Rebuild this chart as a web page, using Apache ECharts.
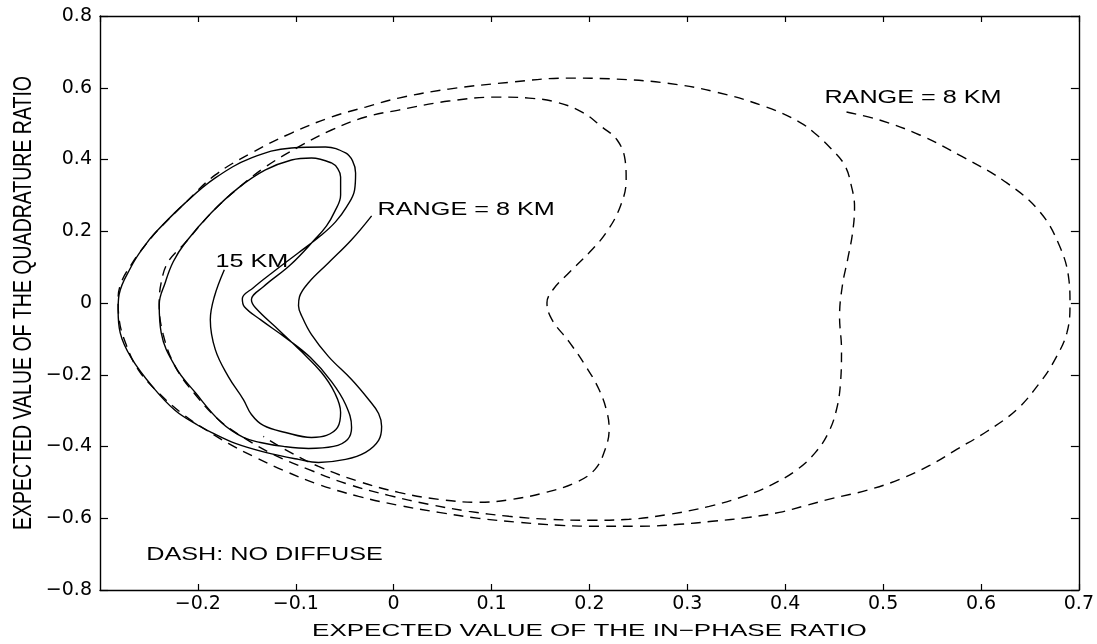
<!DOCTYPE html>
<html><head><meta charset="utf-8">
<script src="https://cdn.jsdelivr.net/npm/echarts@6/dist/echarts.min.js"></script>
<style>html,body{margin:0;padding:0;background:#fff}#c{width:1097px;height:644px}</style>
</head><body><div id="c"></div>
<script>
// Solid spiral (with diffuse), from RANGE = 8 KM to 15 KM
const solidX = [-0.0225,-0.0430,-0.0665,-0.0870,-0.0962,-0.0972,-0.0931,-0.0839,-0.0665,-0.0430,-0.0256,-0.0154,-0.0123,-0.0154,-0.0287,-0.0491,-0.0768,-0.0972,-0.1310,-0.1617,
-0.1863,-0.1996,-0.2231,-0.2456,-0.2682,-0.2794,-0.2815,-0.2805,-0.2682,-0.2559,-0.2436,-0.2129,-0.1822,-0.1453,-0.1044,-0.0696,-0.0491,-0.0420,-0.0389,-0.0399,-0.0481,
-0.0594,-0.0747,-0.0972,-0.1228,-0.1433,-0.1546,-0.1525,-0.1361,-0.1105,-0.0850,-0.0635,-0.0491,-0.0430,-0.0471,-0.0614,-0.0870,-0.1126,-0.1361,-0.1535,-0.1760,
-0.2027,-0.2231,-0.2375,-0.2395,-0.2334,-0.2252,-0.2129,-0.1863,-0.1586,-0.1310,-0.1044,-0.0839,-0.0635,-0.0570,-0.0542,-0.0542,-0.0604,-0.0686,-0.0809,-0.1054,-0.1331,
-0.1453,-0.1412,-0.1177,-0.0942,-0.0737,-0.0604,-0.0542,-0.0573,-0.0686,-0.0839,-0.1105,-0.1331,-0.1453,-0.1535,-0.1689,-0.1822,-0.1873,-0.1832,-0.1730];
const solidY = [0.2429,0.1762,0.1121,0.0565,0.0175,-0.0075,-0.0409,-0.0882,-0.1494,-0.2134,-0.2691,-0.3080,-0.3442,-0.3831,-0.4165,-0.4360,-0.4444,-0.4360,-0.4165,-0.3915,
-0.3609,-0.3414,-0.2997,-0.2357,-0.1522,-0.0826,-0.0186,0.0231,0.1010,0.1539,0.1956,0.2791,0.3486,0.4043,0.4321,0.4349,0.4182,0.3960,0.3626,0.3153,0.2679,
0.2262,0.1873,0.1400,0.0871,0.0426,0.0120,-0.0103,-0.0465,-0.0965,-0.1522,-0.2190,-0.2830,-0.3470,-0.3803,-0.3998,-0.4054,-0.3998,-0.3887,-0.3748,-0.3331,
-0.2496,-0.1772,-0.0826,-0.0047,0.0565,0.1149,0.1678,0.2513,0.3208,0.3709,0.3987,0.4043,0.3904,0.3740,0.3514,0.3013,0.2540,0.2151,0.1761,0.1066,0.0453,
0.0092,-0.0131,-0.0743,-0.1355,-0.1939,-0.2496,-0.3052,-0.3470,-0.3692,-0.3748,-0.3609,-0.3414,-0.3108,-0.2691,-0.2051,-0.1299,-0.0465,0.0175,0.0927];

// Dashed spiral (no diffuse), starting at RANGE = 8 KM
const dashX = [0.4626,0.4964,0.5374,0.5814,0.6264,0.6602,0.6806,0.6898,0.6909,0.6878,0.6755,0.6602,0.6366,0.6059,0.5752,0.5476,0.5169,0.4831,0.4483,0.4217,
0.3941,0.3634,0.3255,0.2917,0.2508,0.2098,0.1689,0.1279,0.0870,0.0461,0.0051,-0.0358,-0.0768,-0.1126,-0.1433,-0.1689,-0.1924,-0.2149,-0.2405,-0.2610,
-0.2733,-0.2804,-0.2815,-0.2784,-0.2682,-0.2559,-0.2405,-0.2129,-0.1822,-0.1453,-0.1044,-0.0635,-0.0287,0.0051,0.0563,0.1208,0.1760,0.2272,0.2784,0.3296,
0.3808,0.4145,0.4299,0.4452,0.4606,0.4678,0.4708,0.4688,0.4637,0.4585,0.4555,0.4575,0.4565,0.4524,0.4442,0.4309,0.4125,0.3869,0.3603,0.3224,
0.2815,0.2405,0.1996,0.1586,0.1177,0.0768,0.0358,-0.0051,-0.0461,-0.0870,-0.1228,-0.1535,-0.1791,-0.2027,-0.2231,-0.2354,-0.2395,-0.2375,-0.2303,-0.2129,
-0.1863,-0.1586,-0.1310,-0.0972,-0.0635,-0.0287,0.0051,0.0563,0.1075,0.1382,0.1658,0.1924,0.2129,0.2283,0.2364,0.2375,0.2313,0.2170,0.1996,0.1791,
0.1627,0.1566,0.1617,0.1791,0.1965,0.2098,0.2180,0.2201,0.2160,0.2057,0.1863,0.1556,0.1208,0.0870,0.0461,0.0051,-0.0358,-0.0768,-0.1075,-0.1331];
const dashY = [0.5323,0.5100,0.4683,0.4071,0.3347,0.2540,0.1566,0.0648,0.0008,-0.0826,-0.1578,-0.2218,-0.2969,-0.3581,-0.4082,-0.4527,-0.4917,-0.5223,-0.5445,-0.5640,
-0.5835,-0.5974,-0.6085,-0.6169,-0.6224,-0.6224,-0.6196,-0.6113,-0.6002,-0.5835,-0.5640,-0.5390,-0.5056,-0.4666,-0.4277,-0.3915,-0.3525,-0.3108,-0.2496,-0.1856,
-0.1160,-0.0465,0.0092,0.0565,0.1066,0.1539,0.2040,0.2791,0.3570,0.4182,0.4738,0.5184,0.5462,0.5712,0.5963,0.6157,0.6269,0.6241,0.6130,0.5879,
0.5462,0.5045,0.4738,0.4349,0.3848,0.3236,0.2679,0.1956,0.1205,0.0509,-0.0381,-0.1299,-0.2218,-0.2969,-0.3609,-0.4165,-0.4638,-0.5056,-0.5362,-0.5668,
-0.5890,-0.6029,-0.6057,-0.6029,-0.5946,-0.5807,-0.5612,-0.5362,-0.5056,-0.4638,-0.4221,-0.3748,-0.3247,-0.2551,-0.1772,-0.0882,-0.0047,0.0565,0.1149,0.1678,
0.2513,0.3208,0.3792,0.4349,0.4822,0.5184,0.5378,0.5629,0.5740,0.5712,0.5601,0.5323,0.4905,0.4544,0.3987,0.3431,0.2679,0.1956,0.1400,0.0843,
0.0370,0.0008,-0.0465,-0.1077,-0.1772,-0.2412,-0.3052,-0.3525,-0.4082,-0.4638,-0.5000,-0.5278,-0.5473,-0.5556,-0.5473,-0.5278,-0.4972,-0.4555,-0.4137,-0.3720];

const xRange = [-0.3, 0.7];
const yRange = [-0.8, 0.8];
const xTitle = 'EXPECTED VALUE OF THE IN\u2212PHASE RATIO';
const yTitle = 'EXPECTED VALUE OF THE QUADRATURE RATIO';
const noteTexts = ['RANGE = 8 KM', '15 KM', 'RANGE = 8 KM', 'DASH: NO DIFFUSE'];
const noteAnchorX = [-0.0164, -0.182, 0.440, -0.2528];
const noteAnchorY = [0.258, 0.1135, 0.570, -0.703];

function pairs(xs, ys) { return xs.map((x, i) => [x, ys[i]]); }
function fmt(v) {
  const r = Math.round(v * 10) / 10;
  if (Math.abs(r) < 1e-9) return '0';
  return r.toFixed(1).replace('-', '\u2212');
}

const chart = echarts.init(document.getElementById('c'), null, { renderer: 'canvas' });
const lineCol = '#000';
const tickFont = { color: '#000', fontFamily: 'DejaVu Sans', fontSize: 19 };
function axisBase(pos, isX, showLabel) {
  return {
    type: 'value', position: pos,
    min: isX ? xRange[0] : yRange[0], max: isX ? xRange[1] : yRange[1],
    interval: isX ? 0.1 : 0.2,
    axisLine: { show: true, onZero: false, lineStyle: { color: lineCol, width: 1.4 } },
    axisTick: { show: true, inside: true, length: isX ? 6 : 8, lineStyle: { color: lineCol, width: 1.2 } },
    axisLabel: Object.assign({ show: showLabel, formatter: fmt, margin: isX ? 5 : 8, showMinLabel: !isX, showMaxLabel: true }, tickFont),
    splitLine: { show: false }
  };
}
const option = {
  animation: false,
  backgroundColor: '#fff',
  grid: { left: 100, right: 18, top: 16, bottom: 54, containLabel: false },
  xAxis: [axisBase('bottom', true, true), axisBase('top', true, false)],
  yAxis: [axisBase('left', false, true), axisBase('right', false, false)],
  series: [
    { type: 'line', name: 'No diffuse', data: pairs(dashX, dashY), xAxisIndex: 0, yAxisIndex: 0,
      showSymbol: false, symbol: 'none', smooth: 0.4, lineStyle: { color: '#000', width: 1.4, type: [10, 7] } },
    { type: 'line', name: 'Diffuse', data: pairs(solidX, solidY), xAxisIndex: 0, yAxisIndex: 0,
      showSymbol: false, symbol: 'none', smooth: 0.4, lineStyle: { color: '#000', width: 1.4 } }
  ]
};
chart.setOption(option);

const graphics = [];
const noteFont = '18px "Liberation Sans", Arial, sans-serif';
for (let i = 0; i < noteTexts.length; i++) {
  const p = chart.convertToPixel({ xAxisIndex: 0, yAxisIndex: 0 }, [noteAnchorX[i], noteAnchorY[i]]);
  graphics.push({ type: 'text', x: p[0], y: p[1], scaleX: 1.4, z: 10,
    style: { text: noteTexts[i], font: noteFont, fill: '#000', align: 'left', verticalAlign: 'middle', textAlign: 'left', textVerticalAlign: 'middle' } });
}
const g = chart.getModel().getComponent('grid', 0).coordinateSystem.getRect();
graphics.push({ type: 'text', x: g.x + g.width / 2, y: 631, scaleX: 1.53, z: 10,
  style: { text: xTitle, font: '17px "Liberation Sans", Arial, sans-serif', fill: '#000', align: 'center', verticalAlign: 'middle', textAlign: 'center', textVerticalAlign: 'middle' } });
graphics.push({ type: 'text', x: 24, y: g.y + g.height / 2, rotation: Math.PI / 2, scaleY: 1.3, z: 10,
  style: { text: yTitle, font: '19.5px "Liberation Sans", Arial, sans-serif', fill: '#000', align: 'center', verticalAlign: 'middle', textAlign: 'center', textVerticalAlign: 'middle' } });
chart.setOption({ graphic: graphics });
</script>
</body></html>
